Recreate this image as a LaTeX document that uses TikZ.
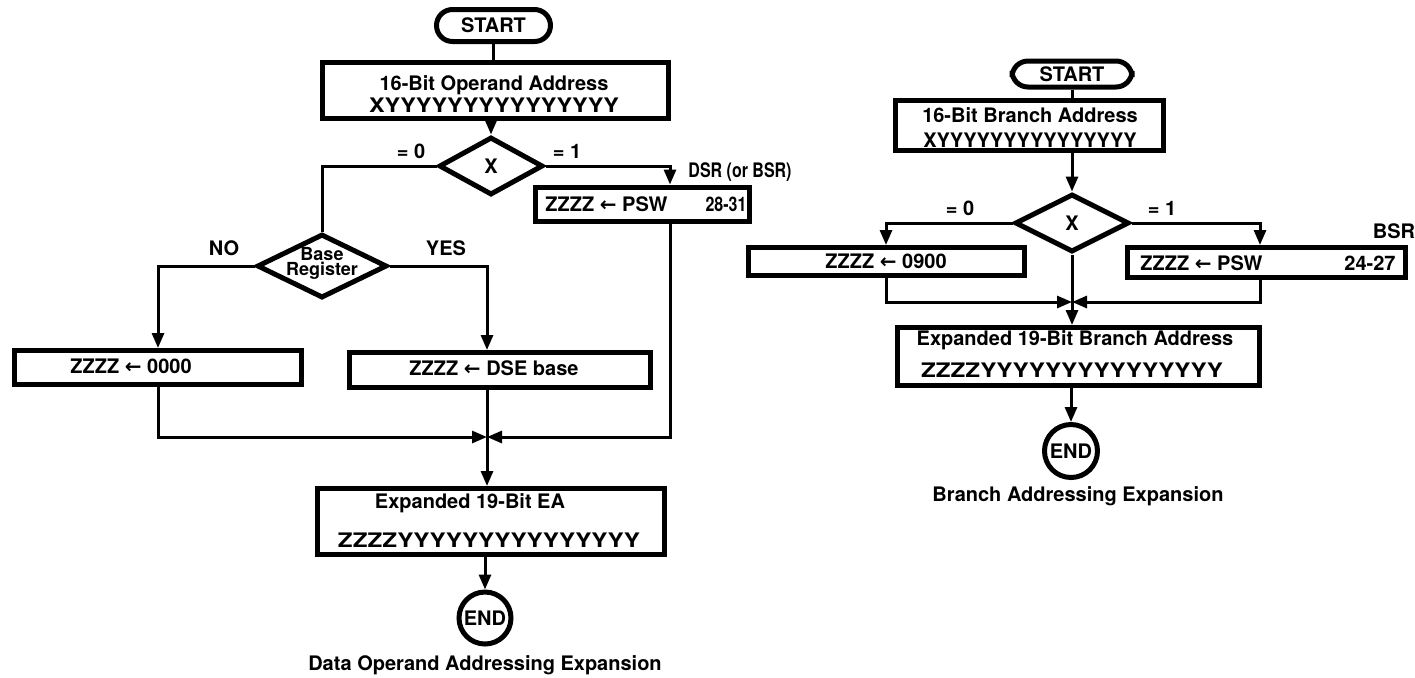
\documentclass[tikz,border=0pt]{standalone}
\usepackage{fontspec}
\setmainfont{TeX Gyre Heros}
\newfontfamily\symfont{DejaVu Sans}
\usepackage{graphicx}
\usetikzlibrary{shapes.geometric,arrows.meta}
\newcommand{\la}{{\symfont\bfseries ←}}
\begin{document}
\begin{tikzpicture}[x=0.5pt,y=-0.5pt,
  box/.style={draw, line width=2.5pt, inner sep=0pt, font=\bfseries},
  term/.style={box, rounded corners=8pt},
  dec/.style={draw, diamond, line width=2.5pt, inner sep=0pt, font=\bfseries},
  endc/.style={draw, circle, line width=2.5pt, inner sep=0pt, font=\bfseries},
  txt/.style={inner sep=0pt, font=\bfseries},
  small/.style={inner sep=0pt, font=\bfseries\fontsize{9}{10}\selectfont},
  conn/.style={line width=1.5pt},
  arr/.style={conn, -{Triangle[length=7.5pt,width=6pt]}},
]
\useasboundingbox (0,0) rectangle (1415,677);

% ---------------- left chart ----------------
\node[term, minimum width=57pt, minimum height=16pt] (start1) at (493.5,25.5) {START};
\node[box, minimum width=173pt, minimum height=28pt] (box1) at (495.5,90.5) {};
\node[txt] (b1a) at (494,85) {16-Bit Operand Address};
\node[txt] (b1b) at (494,105) {\resizebox{125pt}{\height}{XYYYYYYYYYYYYYYY}};
\node[dec, minimum width=52pt, minimum height=29pt] (dx1) at (491,166) {X};
\node[txt] (eq0a) at (411,151) {= 0};
\node[txt] (eq1a) at (567,151) {= 1};
\node[box, minimum width=107pt, minimum height=17pt] (psw1) at (642.5,204) {};
\node[txt, anchor=west] (psw1a) at (545,204) {ZZZZ \la{} PSW};
\node[txt] (psw1b) at (726,204) {\scalebox{0.8}[1]{28-31}};
\node[txt] (dsr) at (740,172) {\scalebox{0.8}[1]{DSR (or BSR)}};
\node[dec, minimum width=65pt, minimum height=32pt] (br) at (322,266) {};
\node[small] (bra) at (322,254) {Base};
\node[small] (brb) at (322,271) {Register};
\node[txt] (no) at (224,248) {NO};
\node[txt] (yes) at (446,248) {YES};
\node[box, minimum width=143.5pt, minimum height=17pt] (nobox) at (158,367.5) {};
\node[txt, anchor=west] (noboxt) at (70,366) {ZZZZ \la{} 0000};
\node[box, minimum width=150.5pt, minimum height=17.5pt] (yesbox) at (500,370) {};
\node[txt] (yesboxt) at (494,368) {ZZZZ \la{} DSE base};
\node[box, minimum width=173.5pt, minimum height=33pt] (exp1) at (491,521.5) {};
\node[txt] (e1a) at (470,503) {Expanded 19-Bit EA};
\node[txt] (e1b) at (489,540) {\resizebox{151pt}{\height}{ZZZZYYYYYYYYYYYYYYY}};
\node[endc, minimum size=26pt] (end1) at (485,618) {END};
\node[txt] (cap1) at (485,665) {Data Operand Addressing Expansion};

\coordinate (j1) at (487,437);
\coordinate (r1) at (670,166);

\draw[conn] (start1.south) -- (start1.south |- box1.north);
\draw[arr] (box1.south -| dx1) -- (dx1.north);
\draw[conn] (dx1.west) -| (br.north);
\draw[arr] (dx1.east) -| (psw1.north -| r1);
\draw[arr] (br.west) -| (nobox.north);
\draw[arr] (br.east) -| (yesbox.north -| j1);
\draw[arr] (nobox.south) |- (j1);
\draw[arr] (psw1.south -| r1) |- (j1);
\draw[arr] (yesbox.south -| j1) -- (exp1.north -| j1);
\draw[arr] (exp1.south -| end1) -- (end1.north);

% ---------------- right chart ----------------
\node[term, minimum width=60pt, minimum height=13pt] (start2) at (1072,74) {START};
\node[box, minimum width=134pt, minimum height=25pt] (box2) at (1029,125.5) {};
\node[txt] (b2a) at (1030,115) {16-Bit Branch Address};
\node[txt] (b2b) at (1030,140) {XYYYYYYYYYYYYYYY};
\node[dec, minimum width=57pt, minimum height=29pt] (dx2) at (1072,223) {X};
\node[txt] (eq0b) at (960,208) {= 0};
\node[txt] (eq1b) at (1162,208) {= 1};
\node[box, minimum width=138pt, minimum height=14pt] (b0box) at (886,261.5) {ZZZZ \la{} 0900};
\node[box, minimum width=139pt, minimum height=15pt] (psw2) at (1266.5,262.5) {};
\node[txt, anchor=west] (psw2a) at (1140,263) {ZZZZ \la{} PSW};
\node[txt] (psw2b) at (1370,263) {24-27};
\node[txt] (bsr) at (1394,231) {BSR};
\node[box, minimum width=181pt, minimum height=29pt] (exp2) at (1078.5,356.5) {};
\node[txt] (e2a) at (1075,340) {Expanded 19-Bit Branch Address};
\node[txt] (e2b) at (1072,370) {\resizebox{151pt}{\height}{ZZZZYYYYYYYYYYYYYYY}};
\node[endc, minimum size=26.5pt] (end2) at (1071,451) {END};
\node[txt] (cap2) at (1078,496) {Branch Addressing Expansion};

\coordinate (j2) at (1072,302);
\coordinate (r2) at (1260,223);

\draw[conn] (start2.south) -- (start2.south |- box2.north);
\draw[arr] (box2.south -| dx2) -- (dx2.north);
\draw[arr] (dx2.west) -| (b0box.north);
\draw[arr] (dx2.east) -| (psw2.north -| r2);
\draw[arr] (b0box.south) |- (j2);
\draw[arr] (psw2.south -| r2) |- (j2);
\draw[arr] (dx2.south) -- (exp2.north -| dx2);
\draw[arr] (exp2.south -| end2) -- (end2.north);
\end{tikzpicture}
\end{document}
